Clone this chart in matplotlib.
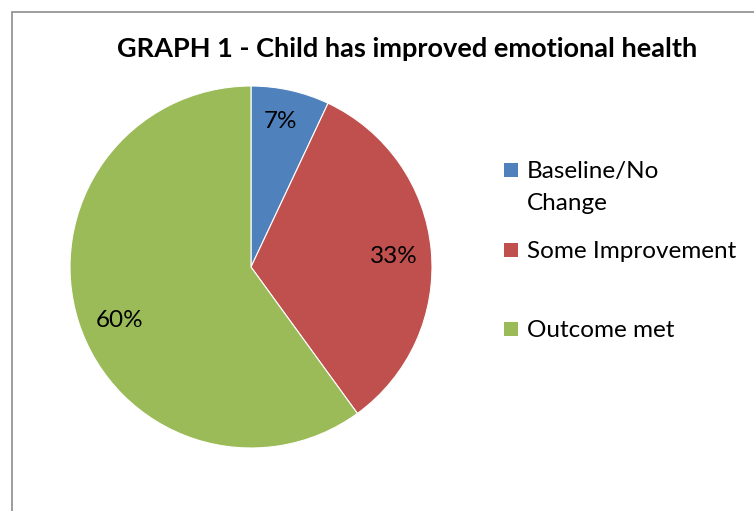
import numpy as np
import matplotlib
matplotlib.use("Agg")
import matplotlib.pyplot as plt
from matplotlib.patches import Rectangle

categories = ["Baseline/No Change", "Some Improvement", "Outcome met"]
legend_labels = ["Baseline/No\nChange", "Some Improvement", "Outcome met"]
values = [7, 33, 60]
colors = ["#4F81BD", "#C0504D", "#9BBB59"]
title = "GRAPH 1 - Child has improved emotional health"

W, H = 754, 511
fig = plt.figure(figsize=(W / 100, H / 100), dpi=100)
plt.rcParams['font.family'] = ['Lato', 'DejaVu Sans']

# frame (only top/left visible in reference)
fig.patches.append(Rectangle((11.5 / W, -0.1), 2, (H - 12.5) / H + 0.1,
                             transform=fig.transFigure, fill=False,
                             edgecolor="#8c8c8c", linewidth=1.2))

cx, cy, r = 251, 267, 181
ax = fig.add_axes([(cx - r) / W, (H - cy - r) / H, 2 * r / W, 2 * r / H])
wedges, texts, autotexts = ax.pie(values, colors=colors, startangle=90, counterclock=False,
                                  radius=1, autopct=lambda p: f"{p:.0f}%", pctdistance=0.8,
                                  wedgeprops=dict(edgecolor="white", linewidth=0.8),
                                  textprops=dict(fontsize=17.5, color="#000000"))
# label placement tweaks (radius, angle offset in degrees)
lab_r = [0.83, 0.79, 0.78]
lab_da = [1.4, -0.5, 3.5]
for w, t, rr, da in zip(wedges, autotexts, lab_r, lab_da):
    mid = np.deg2rad((w.theta1 + w.theta2) / 2 + da)
    t.set_position((rr * np.cos(mid), rr * np.sin(mid) - 0.012))
ax.set_xlim(-1, 1)
ax.set_ylim(-1, 1)
ax.set_aspect("auto")
ax.axis("off")

fig.text(407 / W, 1 - 49 / H, title, ha="center", va="center",
         fontsize=19.5, fontweight="bold")

# legend
ys = [170, 250, 329]
for lab, col, y in zip(legend_labels, colors, ys):
    fig.patches.append(Rectangle((504 / W, 1 - (y + 7) / H), 14 / W, 14 / H,
                                 transform=fig.transFigure, facecolor=col, edgecolor="none"))
    fig.text(527 / W, 1 - (y - 9) / H, lab, ha="left", va="top", fontsize=17.5,
             linespacing=1.65)

fig.savefig("out.png", dpi=100)
